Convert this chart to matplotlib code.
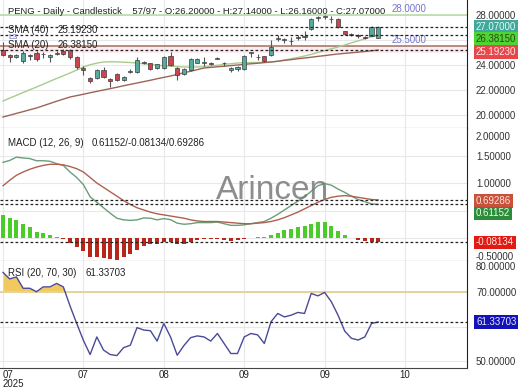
import numpy as np
import matplotlib.pyplot as plt

plt.rcParams['font.family'] = ['Liberation Sans', 'DejaVu Sans']

# ---- price data (daily candles) ----
opens = np.array([25.2, 24.8, 24.64, 24.32, 24.8, 24.96, 24.9, 24.66, 24.9, 25.1,
                  25.2, 24.6, 23.8, 22.95, 22.96, 23.6, 22.9, 23.28, 22.8, 23.45,
                  23.44, 24.16, 24.16, 23.76, 23.76, 24.72, 23.76, 23.28, 23.6, 24.2,
                  24.2, 24.16, 24.5, 24.16, 23.6, 23.68, 23.7, 24.95, 24.62, 24.7,
                  24.8, 26.1, 26.0, 25.9, 26.2, 26.24, 26.88, 27.75, 27.85, 27.7,
                  27.68, 26.7, 26.5, 26.4, 26.2, 26.32, 26.2])
highs = np.array([25.84, 24.85, 24.9, 25.1, 24.88, 25.1, 25.05, 24.85, 25.1, 25.25,
                  25.3, 24.7, 23.9, 23.05, 23.65, 23.84, 22.95, 23.35, 23.1, 23.7,
                  24.64, 24.3, 24.2, 24.12, 24.7, 25.04, 23.85, 23.76, 24.6, 24.6,
                  24.64, 24.25, 24.62, 24.24, 23.85, 23.92, 24.8, 25.05, 24.85, 24.75,
                  26.0, 26.4, 26.2, 26.25, 26.4, 26.7, 27.75, 27.9, 28.0, 27.92,
                  27.8, 26.75, 26.6, 26.45, 26.3, 27.1, 27.14])
lows = np.array([24.7, 24.24, 24.56, 24.2, 24.4, 24.3, 24.55, 24.25, 24.8, 24.8,
                 24.5, 23.7, 23.2, 22.6, 22.9, 22.96, 22.25, 22.7, 22.75, 23.35,
                 23.4, 24.1, 23.6, 23.72, 23.7, 23.9, 22.8, 23.2, 23.5, 24.16,
                 23.9, 24.0, 24.45, 23.9, 23.45, 23.5, 23.6, 24.64, 24.4, 24.25,
                 24.7, 25.9, 25.75, 25.6, 26.0, 26.0, 26.8, 27.55, 27.7, 27.4,
                 26.95, 26.4, 26.32, 26.2, 26.05, 26.3, 26.16])
closes = np.array([24.8, 24.66, 24.8, 24.96, 24.7, 24.48, 24.85, 24.8, 24.95, 24.9,
                   24.64, 23.84, 23.6, 22.7, 23.6, 23.04, 22.75, 22.8, 23.04, 23.5,
                   24.4, 24.2, 23.7, 24.08, 24.64, 24.0, 23.2, 23.68, 24.48, 24.48,
                   24.24, 24.1, 24.58, 24.14, 23.8, 23.84, 24.7, 25.0, 24.66, 24.35,
                   25.44, 26.12, 26.05, 25.95, 26.26, 26.28, 27.66, 27.8, 27.88, 27.65,
                   27.04, 26.45, 26.4, 26.3, 26.15, 27.04, 27.07])

sma20 = np.array([21.12, 21.35, 21.57, 21.8, 22.02, 22.24, 22.46, 22.7, 22.92, 23.14,
                  23.36, 23.6, 23.84, 24.02, 24.15, 24.24, 24.26, 24.25, 24.22, 24.2,
                  24.16, 24.1, 24.04, 23.98, 23.94, 23.9, 23.86, 23.84, 23.83, 23.84,
                  23.86, 23.92, 23.98, 24.05, 24.1, 24.16, 24.18, 24.2, 24.2, 24.22,
                  24.24, 24.3, 24.4, 24.5, 24.6, 24.72, 24.85, 25.0, 25.15, 25.3,
                  25.44, 25.6, 25.77, 25.93, 26.1, 26.25, 26.3815])
sma40 = np.array([19.84, 19.98, 20.13, 20.27, 20.42, 20.56, 20.74, 20.92, 21.1, 21.27,
                  21.44, 21.55, 21.66, 21.78, 21.89, 22.0, 22.11, 22.22, 22.34, 22.45,
                  22.56, 22.67, 22.78, 22.9, 23.01, 23.12, 23.25, 23.38, 23.5, 23.63,
                  23.76, 23.81, 23.86, 23.9, 23.95, 24.0, 24.05, 24.1, 24.14, 24.19,
                  24.24, 24.3, 24.37, 24.43, 24.5, 24.56, 24.62, 24.69, 24.75, 24.82,
                  24.88, 24.93, 24.98, 25.03, 25.08, 25.14, 25.1923])

levels = [28.0, 25.5]

# ---- MACD (12, 26, 9) ----
macd = np.array([1.376, 1.41, 1.47, 1.455, 1.444, 1.405, 1.405, 1.395, 1.352, 1.32,
                 1.2, 1.1, 0.97, 0.75, 0.65, 0.55, 0.45, 0.36, 0.33, 0.32,
                 0.33, 0.365, 0.36, 0.33, 0.353, 0.333, 0.27, 0.25, 0.26, 0.28,
                 0.28, 0.28, 0.29, 0.26, 0.23, 0.23, 0.24, 0.26, 0.28, 0.30,
                 0.36, 0.43, 0.51, 0.59, 0.67, 0.75, 0.85, 0.95, 0.99, 0.96,
                 0.89, 0.83, 0.76, 0.70, 0.66, 0.62, 0.61152])
signal = np.array([0.95, 1.05, 1.14, 1.2, 1.25, 1.29, 1.32, 1.34, 1.34, 1.33,
                   1.3, 1.26, 1.2, 1.1, 1.0, 0.92, 0.84, 0.76, 0.68, 0.61,
                   0.55, 0.51, 0.47, 0.44, 0.42, 0.4, 0.38, 0.36, 0.33, 0.31,
                   0.3, 0.3, 0.3, 0.29, 0.28, 0.27, 0.26, 0.26, 0.27, 0.28,
                   0.3, 0.33, 0.37, 0.42, 0.47, 0.53, 0.59, 0.65, 0.7, 0.74,
                   0.76, 0.77, 0.76, 0.74, 0.72, 0.7, 0.69286])
hist = np.array([0.42, 0.36, 0.33, 0.255, 0.194, 0.115, 0.085, 0.055, 0.012, -0.01,
                 -0.097, -0.157, -0.23, -0.35, -0.35, -0.37, -0.388, -0.4, -0.35, -0.29,
                 -0.218, -0.145, -0.109, -0.109, -0.067, -0.067, -0.109, -0.109, -0.07, -0.03,
                 -0.02, -0.02, -0.01, -0.03, -0.05, -0.04, -0.02, 0.0, 0.01, 0.02,
                 0.06, 0.1, 0.14, 0.17, 0.2, 0.22, 0.26, 0.29, 0.29, 0.22,
                 0.13, 0.06, 0.0, -0.04, -0.06, -0.08, -0.08134])

# ---- RSI (20, 70, 30) ----
rsi = np.array([75.7, 73.8, 74.4, 71.1, 71.1, 70.1, 71.5, 71.5, 72.5, 71.5,
                66.0, 60.9, 56.0, 51.9, 57.0, 53.2, 51.9, 51.6, 53.9, 54.6,
                59.7, 59.0, 58.8, 55.8, 60.9, 57.0, 51.7, 54.5, 56.8, 57.3,
                57.0, 55.8, 58.0, 55.1, 52.2, 52.2, 57.0, 58.0, 57.6, 55.1,
                61.4, 63.8, 62.8, 63.3, 64.1, 63.8, 69.6, 68.9, 69.9, 67.2,
                63.3, 58.7, 56.6, 56.1, 57.0, 60.9, 61.33703])
rsi_upper = 70

tick_pos = [0, 12, 24, 36, 48, 60]
tick_lab = ['07\n2025', '07', '08', '09', '09', '10']

W, H = 520, 390


def fy(px):
    return 1 - px / H


def style(ax):
    ax.spines['left'].set_visible(False)
    ax.spines['top'].set_visible(False)
    ax.spines['right'].set_color('#222')
    ax.spines['bottom'].set_color('#444')
    ax.yaxis.tick_right()
    ax.tick_params(axis='y', length=0, pad=6.5, labelsize=7, labelcolor='#333')
    ax.tick_params(axis='x', length=0, labelsize=7, labelcolor='#222', pad=1.5)
    ax.grid(True, color='#e8e8e8', lw=0.8)
    ax.set_axisbelow(True)


def set_yticks(ax, values, hidden=()):
    # ticks hidden behind the coloured value tags keep their grid line only
    ax.set_yticks(values)
    ax.set_yticklabels(['' if v in hidden else f'{v:.5f}' for v in values])


def side_label(ax, frac, text):
    # axis label pushed inside the panel edge
    ax.annotate(text, xy=(1, frac), xycoords='axes fraction', xytext=(6.5, 0),
                textcoords='offset points', fontsize=7, color='#333',
                va='center', ha='left', annotation_clip=False)


def tag(ax, y, text, bg, fg, dy=0):
    # coloured value label on the right axis; dy = pixels down
    ax.annotate(text, xy=(1, y), xycoords=('axes fraction', 'data'),
                xytext=(6.5, -dy * 0.72), textcoords='offset points',
                ha='left', va='center', fontsize=7, color=fg,
                bbox=dict(boxstyle='square,pad=0.18', fc=bg, ec='none'),
                annotation_clip=False, zorder=10)


def dashed(ax, y):
    ax.axhline(y, color='#222', lw=0.9, ls=(0, (2.2, 1.8)), zorder=4)


fig = plt.figure(figsize=(W / 100, H / 100), dpi=100)
right = 467 / W
ax_p = fig.add_axes([0, fy(128), right, fy(0) - fy(128)])
ax_m = fig.add_axes([0, fy(261), right, fy(128) - fy(261)], sharex=ax_p)
ax_r = fig.add_axes([0, fy(368), right, fy(261) - fy(368)], sharex=ax_p)
for ax in (ax_p, ax_m, ax_r):
    style(ax)
ax_p.tick_params(labelbottom=False)
ax_m.tick_params(labelbottom=False)

x = np.arange(len(closes))

# ---- price panel ----
ax_p.axhspan(24.96, levels[1], color='#fdebef', lw=0, zorder=0.5)
ax_p.axhline(levels[0], color='#b5dba2', lw=1.1, zorder=1)
ax_p.axhline(levels[1], color='#a07060', lw=1.1, zorder=1)
ax_p.plot(x, sma20, color='#a9cb8e', lw=1.0, zorder=2)
ax_p.plot(x, sma40, color='#9a6558', lw=1.0, zorder=2)
up = closes >= opens
ax_p.vlines(x, lows, highs, color='#555555', lw=0.8, zorder=3)
ax_p.bar(x, np.maximum(np.abs(closes - opens), 0.05), bottom=np.minimum(opens, closes),
         width=0.62, color=np.where(up, '#56ab9f', '#c8464f'), edgecolor='#3c3c3c',
         lw=0.5, zorder=3.5)
dashed(ax_p, closes[-1])
dashed(ax_p, sma20[-1])
dashed(ax_p, sma40[-1])
ax_p.set_ylim(18.96, 29.2)
set_yticks(ax_p, [20, 22, 24, 26, 28], hidden=(26,))
tag(ax_p, closes[-1], f'{closes[-1]:.5f}', '#3fa99b', '#e8f8f4', dy=0.5)
tag(ax_p, sma20[-1], f'{sma20[-1]:.5f}', '#4fd436', '#2a4a10', dy=4)
tag(ax_p, sma40[-1], f'{sma40[-1]:.5f}', '#e6474a', '#ffe8e8', dy=2)
for lv in levels:
    ax_p.annotate(f'{lv:.4f}', xy=(392 / 467, lv), xycoords=('axes fraction', 'data'),
                  xytext=(0, 1), textcoords='offset points', ha='left', va='bottom',
                  fontsize=7, color='#7474cf')

# ---- MACD panel ----
ax_m.bar(x, hist, width=0.6, color=np.where(hist >= 0, '#4ccc2a', '#b8261a'),
         lw=0, zorder=2)
ax_m.plot(x, macd, color='#6a9e78', lw=1.0, zorder=3)
ax_m.plot(x, signal, color='#b0604e', lw=1.0, zorder=3)
dashed(ax_m, signal[-1])
dashed(ax_m, macd[-1])
dashed(ax_m, hist[-1])
ax_m.set_ylim(-0.418, 2.0)
set_yticks(ax_m, [1.5, 1.0, 0.5, 0.0], hidden=(0.5, 0.0))
side_label(ax_m, 0.932, '2.00000')
side_label(ax_m, 0.03, '-0.50000')
tag(ax_m, signal[-1], f'{signal[-1]:.5f}', '#c9503a', '#ffe6dc', dy=1)
tag(ax_m, macd[-1], f'{macd[-1]:.5f}', '#2d8c3c', '#e6ffe6', dy=9)
tag(ax_m, hist[-1], f'{hist[-1]:.5f}', '#e21a12', '#ffe8e8', dy=0)
fig.text(272 / W, fy(190), 'Arincen', fontsize=24, color='#7a7a7a', ha='center',
         va='center', alpha=0.85)

# ---- RSI panel ----
ax_r.fill_between(x, rsi, rsi_upper, where=rsi >= rsi_upper, interpolate=True,
                  color='#f2c95e', lw=0, zorder=1)
ax_r.axhline(rsi_upper, color='#e3d49c', lw=1.4, zorder=1.5)
ax_r.plot(x, rsi, color='#4a4a98', lw=1.0, zorder=3)
dashed(ax_r, rsi[-1])
ax_r.set_ylim(48.0, 79.0)
set_yticks(ax_r, [50, 60, 70], hidden=(60,))
side_label(ax_r, 0.944, '80.00000')
tag(ax_r, rsi[-1], f'{rsi[-1]:.5f}', '#1212b8', '#e8e8ff', dy=0)

ax_r.set_xlim(-0.45, 69.25)
ax_r.set_xticks(tick_pos)
ax_r.set_xticklabels(tick_lab, linespacing=0.85)
ax_r.get_xticklabels()[0].set_ha('left')

# ---- header texts ----
hdr = dict(fontsize=7, color='#222', va='center')
fig.text(8 / W, fy(12), 'PENG - Daily - Candlestick    57/97 - O:26.20000 - '
         'H:27.14000 - L:26.16000 - C:27.07000', fontsize=6.8, color='#222', va='center')
fig.text(8 / W, fy(30), 'SMA (40)', **hdr)
fig.text(58 / W, fy(30), f'{sma40[-1]:.5f}', **hdr)
fig.text(8 / W, fy(37.5), 'L3', fontsize=6, color='#6a6ad0', va='center')
fig.text(8 / W, fy(45), 'SMA (20)', **hdr)
fig.text(58 / W, fy(45), f'{sma20[-1]:.5f}', **hdr)
fig.text(8 / W, fy(143), 'MACD (12, 26, 9)', **hdr)
fig.text(92 / W, fy(143), f'{macd[-1]:.5f}/{hist[-1]:.5f}/{signal[-1]:.5f}', **hdr)
fig.text(8 / W, fy(273), 'RSI (20, 70, 30)', **hdr)
fig.text(85 / W, fy(273), f'{rsi[-1]:.5f}', **hdr)

fig.savefig('out.png', dpi=100)
